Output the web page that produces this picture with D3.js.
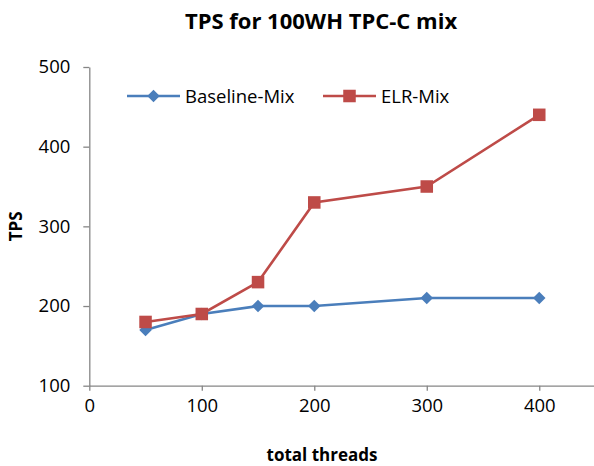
<!DOCTYPE html>
<html>
<head>
<meta charset="utf-8">
<script src="https://cdn.jsdelivr.net/npm/d3@7"></script>
<style>
  html, body { margin: 0; padding: 0; background: #fff; }
  svg { display: block; font-family: "Open Sans", sans-serif; }
</style>
</head>
<body>
<svg id="chart" width="594" height="466"></svg>
<script>
// Throughput per thread count
const threads = [50, 100, 150, 200, 300, 400];
const baselineMix = [170, 190, 200, 200, 210, 210];
const elrMix = [180, 190, 230, 330, 350, 440];
const xTicks = [0, 100, 200, 300, 400];
const yTicks = [100, 200, 300, 400, 500];
const seriesNames = ["Baseline-Mix", "ELR-Mix"];

const svg = d3.select("#chart");
const axisColor = "#868686";
const colors = ["#4A7EBB", "#BE4B48"];
const fontFamily = "'Open Sans', sans-serif";

const x = d3.scaleLinear().domain([0, 450]).range([89.3, 595.5]);
const y = d3.scaleLinear().domain([100, 500]).range([385.7, 67]);

// Title
svg.append("text")
  .attr("x", 321).attr("y", 29)
  .attr("text-anchor", "middle")
  .attr("font-size", 22).attr("font-weight", "bold")
  .text("TPS for 100WH TPC-C mix");

// Axes
const xAxis = svg.append("g")
  .attr("transform", `translate(0,${y(100)})`)
  .call(d3.axisBottom(x).tickValues(xTicks).tickSizeInner(5).tickSizeOuter(0).tickPadding(6));
const yAxis = svg.append("g")
  .attr("transform", `translate(${x(0)},0)`)
  .call(d3.axisLeft(y).tickValues(yTicks).tickSizeInner(6).tickSizeOuter(0).tickPadding(13));

[xAxis, yAxis].forEach(g => {
  g.select(".domain").attr("stroke", axisColor).attr("stroke-width", 1.3);
  g.selectAll(".tick line").attr("stroke", axisColor).attr("stroke-width", 1.3);
  g.selectAll(".tick text").attr("fill", "#000").attr("font-size", 18.5)
    .attr("font-family", fontFamily);
});
xAxis.selectAll(".tick text").attr("dy", "0.85em");

// Axis titles
svg.append("text")
  .attr("x", 322).attr("y", 461)
  .attr("text-anchor", "middle")
  .attr("font-size", 17).attr("font-weight", "bold")
  .text("total threads");
svg.append("text")
  .attr("transform", `translate(22,${y(300)}) rotate(-90)`)
  .attr("text-anchor", "middle")
  .attr("font-size", 17).attr("font-weight", "bold")
  .text("TPS");

const line = d3.line().x(d => x(d[0])).y(d => y(d[1]));
const data = [baselineMix, elrMix].map(vals => threads.map((t, i) => [t, vals[i]]));

const diamond = d3.symbol().type(d3.symbolDiamond2).size(100);
const square = d3.symbol().type(d3.symbolSquare2).size(200);

data.forEach((pts, si) => {
  svg.append("path")
    .datum(pts)
    .attr("d", line)
    .attr("fill", "none")
    .attr("stroke", colors[si])
    .attr("stroke-width", 2.6);
  svg.selectAll(null)
    .data(pts)
    .enter().append("path")
    .attr("transform", d => `translate(${x(d[0])},${y(d[1])})`)
    .attr("d", si === 0 ? diamond : square)
    .attr("fill", colors[si]);
});

// Legend
const legend = [
  { name: seriesNames[0], x0: 127, sym: diamond },
  { name: seriesNames[1], x0: 323, sym: square }
];
legend.forEach((l, i) => {
  const ly = 96;
  svg.append("line")
    .attr("x1", l.x0).attr("x2", l.x0 + 53)
    .attr("y1", ly).attr("y2", ly)
    .attr("stroke", colors[i]).attr("stroke-width", 2.6);
  svg.append("path")
    .attr("transform", `translate(${l.x0 + 26.5},${ly})`)
    .attr("d", l.sym)
    .attr("fill", colors[i]);
  svg.append("text")
    .attr("x", l.x0 + 58).attr("y", ly + 6.5)
    .attr("font-size", 18.5)
    .text(l.name);
});
</script>
</body>
</html>
